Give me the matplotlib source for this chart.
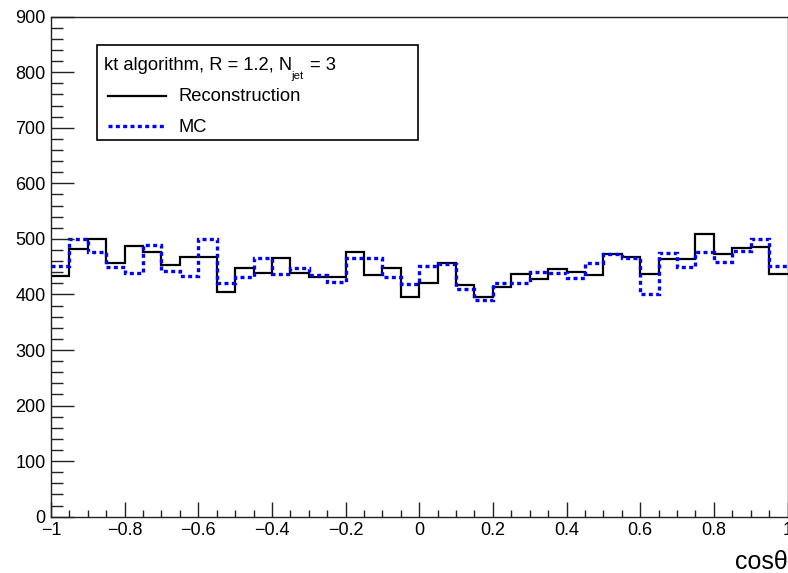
import numpy as np
import matplotlib
matplotlib.use("Agg")
import matplotlib.pyplot as plt
from matplotlib.ticker import MultipleLocator, FixedLocator
from matplotlib.lines import Line2D
from matplotlib.patches import Rectangle

plt.rcParams['font.family'] = ['Liberation Sans', 'DejaVu Sans']

# Data: 40 bins in cos(theta) from -1 to 1
bin_edges = np.linspace(-1.0, 1.0, 41)
reconstruction = [433, 481, 500, 457, 487, 476, 453, 467, 467, 405,
                  447, 439, 465, 439, 431, 431, 476, 435, 447, 395,
                  421, 457, 417, 395, 414, 436, 428, 445, 440, 435,
                  472, 467, 436, 464, 464, 509, 472, 483, 486, 436]
mc = [452, 500, 476, 450, 439, 489, 443, 433, 500, 421,
      432, 466, 436, 448, 435, 423, 466, 466, 432, 418,
      452, 454, 410, 390, 421, 421, 441, 438, 430, 457,
      472, 466, 401, 474, 449, 477, 458, 479, 499, 451]
xticks = [-1, -0.8, -0.6, -0.4, -0.2, 0, 0.2, 0.4, 0.6, 0.8, 1]
yticks = [0, 100, 200, 300, 400, 500, 600, 700, 800, 900]

W, H = 788, 573
fig = plt.figure(figsize=(W / 100, H / 100), dpi=100)
ax = fig.add_axes([51 / W, 1 - 516.7 / H, (787.5 - 51) / W, (516.7 - 16.7) / H])

ax.stairs(reconstruction, bin_edges, color='black', lw=1.6, baseline=None)
ax.stairs(mc, bin_edges, color='#0000ff', lw=2.4, baseline=None,
          linestyle=(0, (1.2, 1.0)))

ax.set_xlim(-1, 1)
ax.set_ylim(0, 900)
ax.xaxis.set_major_locator(FixedLocator(xticks))
ax.xaxis.set_minor_locator(MultipleLocator(0.05))
ax.yaxis.set_major_locator(FixedLocator(yticks))
ax.yaxis.set_minor_locator(MultipleLocator(20))
ax.set_xticklabels(['\u22121', '\u22120.8', '\u22120.6', '\u22120.4', '\u22120.2',
                    '0', '0.2', '0.4', '0.6', '0.8', '1'])
ax.set_yticklabels([str(v) for v in yticks])

ax.tick_params(axis='both', which='both', direction='in', top=False, right=False,
               labelsize=13, color='#222222', width=1)
ax.tick_params(axis='y', which='major', length=16.5, pad=4)
ax.tick_params(axis='y', which='minor', length=8.5)
ax.tick_params(axis='x', which='major', length=10.8, pad=4)
ax.tick_params(axis='x', which='minor', length=5)
for s in ax.spines.values():
    s.set_color('#222222')
    s.set_linewidth(1)

fig.text(788 / W, 1 - 562 / H, 'cos\u03b8', ha='right', va='center', fontsize=18)

# Legend box (ROOT style)
def fx(px):
    return px / W

def fy(py):
    return 1 - py / H

fs = 13.2
fig.patches.append(Rectangle((fx(97), fy(140)), fx(418) - fx(97), fy(45) - fy(140),
                             transform=fig.transFigure, fill=True, facecolor='white',
                             edgecolor='black', lw=1.2, zorder=5))
renderer = fig.canvas.get_renderer()
t1 = fig.text(fx(104), fy(65), 'kt algorithm, R = 1.2, N',
              ha='left', va='center', fontsize=fs, zorder=6)
x1 = t1.get_window_extent(renderer).x1
t2 = fig.text((x1 - 1) / W, fy(76), 'jet', ha='left', va='center',
              fontsize=fs * 0.62, zorder=6)
x2 = t2.get_window_extent(renderer).x1
fig.text((x2 + 7) / W, fy(65), '= 3', ha='left', va='center', fontsize=fs, zorder=6)

fig.add_artist(Line2D([fx(108), fx(166)], [fy(96), fy(96)], color='black', lw=1.6,
                      transform=fig.transFigure, zorder=6))
fig.text(fx(178), fy(97), 'Reconstruction', ha='left', va='center', fontsize=fs, zorder=6)
fig.add_artist(Line2D([fx(108), fx(166)], [fy(126), fy(126)], color='#0000ff', lw=2.4,
                      linestyle=(0, (1.2, 1.0)), transform=fig.transFigure, zorder=6))
fig.text(fx(178), fy(127), 'MC', ha='left', va='center', fontsize=fs, zorder=6)

fig.savefig('out.png', dpi=100)
